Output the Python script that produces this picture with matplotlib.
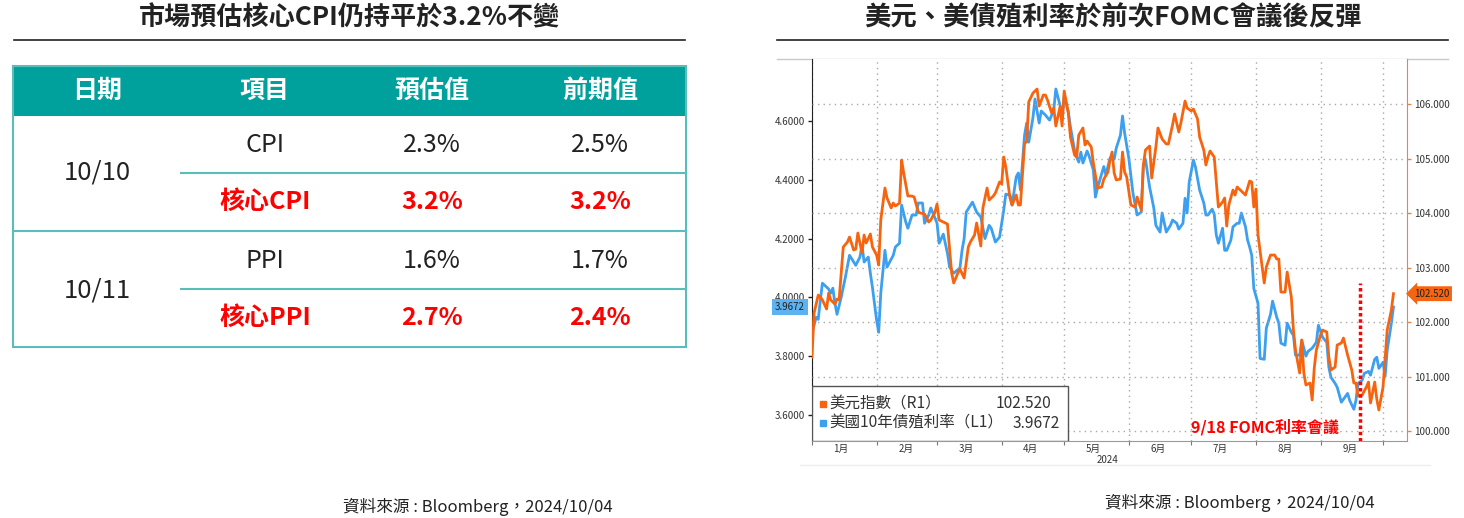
import matplotlib
matplotlib.use("Agg")
import matplotlib.pyplot as plt
import matplotlib.dates as mdates
import matplotlib.transforms as mtransforms
import pandas as pd
from matplotlib.patches import Rectangle
from matplotlib.ticker import FuncFormatter


# ---- left panel: table ----
LEFT_TITLE = "市場預估核心CPI仍持平於3.2%不變"
TABLE_HEADERS = ["日期", "項目", "預估值", "前期值"]
RELEASE_DATES = ["10/10", "10/11"]
ITEMS = ["CPI", "核心CPI", "PPI", "核心PPI"]
FORECAST = ["2.3%", "3.2%", "1.6%", "2.7%"]
PREVIOUS = ["2.5%", "3.2%", "1.7%", "2.4%"]

# ---- right panel: DXY vs US 10Y ----
RIGHT_TITLE = "美元、美債殖利率於前次FOMC會議後反彈"
SOURCE = "資料來源 : Bloomberg，2024/10/04"

YIELD_DATES = [
    "01-01", "01-03", "01-04", "01-05", "01-06", "01-09", "01-10", "01-11", "01-12", "01-13",
    "01-15", "01-17", "01-19", "01-22", "01-24", "01-25", "01-26", "01-28", "01-29", "01-30",
    "02-01", "02-02", "02-03", "02-05", "02-06", "02-09", "02-10", "02-12", "02-13", "02-15",
    "02-16", "02-18", "02-20", "02-21", "02-23", "02-24", "02-26", "02-27", "02-29", "03-01",
    "03-02", "03-04", "03-06", "03-07", "03-09", "03-12", "03-13", "03-14", "03-15", "03-18",
    "03-20", "03-22", "03-24", "03-26", "03-27", "03-29", "03-31", "04-02", "04-03", "04-05",
    "04-06", "04-08", "04-09", "04-10", "04-12", "04-13", "04-14", "04-16", "04-17", "04-19",
    "04-20", "04-22", "04-24", "04-26", "04-27", "04-29", "04-30", "05-01", "05-03", "05-04",
    "05-06", "05-07", "05-08", "05-09", "05-10", "05-12", "05-13", "05-15", "05-16", "05-17",
    "05-20", "05-21", "05-23", "05-25", "05-26", "05-28", "05-29", "05-30", "06-01", "06-03",
    "06-05", "06-07", "06-08", "06-09", "06-11", "06-13", "06-14", "06-16", "06-17", "06-19",
    "06-21", "06-22", "06-24", "06-25", "06-27", "06-28", "06-29", "06-30", "07-02", "07-03",
    "07-05", "07-07", "07-08", "07-09", "07-11", "07-12", "07-13", "07-14", "07-16", "07-17",
    "07-18", "07-20", "07-21", "07-23", "07-24", "07-25", "07-27", "07-28", "07-29", "07-30",
    "07-31", "08-02", "08-03", "08-05", "08-06", "08-08", "08-09", "08-11", "08-12", "08-13",
    "08-15", "08-16", "08-18", "08-19", "08-20", "08-22", "08-23", "08-25", "08-26", "08-28",
    "08-30", "08-31", "09-02", "09-04", "09-05", "09-06", "09-08", "09-09", "09-11", "09-12",
    "09-14", "09-15", "09-17", "09-18", "09-19", "09-21", "09-22", "09-24", "09-25", "09-27",
    "09-28", "09-29", "10-01", "10-02", "10-03", "10-05", "10-06",
]
YIELD_VALUES = [
    3.878, 3.932, 3.925, 3.990, 4.048, 4.028, 4.014, 4.031, 3.980, 3.942,
    4.000, 4.068, 4.143, 4.109, 4.137, 4.178, 4.120, 4.137, 4.082, 4.034,
    3.922, 3.881, 4.014, 4.160, 4.103, 4.143, 4.171, 4.184, 4.314, 4.256,
    4.235, 4.280, 4.280, 4.321, 4.321, 4.252, 4.280, 4.304, 4.270, 4.252,
    4.184, 4.215, 4.150, 4.103, 4.082, 4.100, 4.160, 4.200, 4.290, 4.324,
    4.290, 4.273, 4.200, 4.245, 4.235, 4.188, 4.205, 4.297, 4.351, 4.348,
    4.314, 4.410, 4.423, 4.365, 4.552, 4.593, 4.528, 4.610, 4.675, 4.593,
    4.634, 4.620, 4.603, 4.637, 4.709, 4.654, 4.614, 4.685, 4.631, 4.580,
    4.500, 4.477, 4.460, 4.494, 4.457, 4.498, 4.480, 4.433, 4.341, 4.372,
    4.445, 4.416, 4.474, 4.470, 4.508, 4.552, 4.617, 4.559, 4.474, 4.355,
    4.280, 4.290, 4.450, 4.470, 4.375, 4.304, 4.245, 4.222, 4.287, 4.222,
    4.245, 4.263, 4.252, 4.232, 4.252, 4.337, 4.287, 4.392, 4.467, 4.443,
    4.365, 4.321, 4.280, 4.280, 4.300, 4.283, 4.212, 4.184, 4.235, 4.160,
    4.160, 4.195, 4.240, 4.252, 4.252, 4.287, 4.240, 4.195, 4.171, 4.143,
    4.030, 3.980, 3.792, 3.789, 3.895, 3.942, 3.987, 3.932, 3.912, 3.844,
    3.837, 3.912, 3.881, 3.871, 3.803, 3.803, 3.854, 3.800, 3.816, 3.827,
    3.847, 3.905, 3.864, 3.847, 3.762, 3.728, 3.707, 3.694, 3.643, 3.653,
    3.673, 3.649, 3.619, 3.649, 3.707, 3.718, 3.741, 3.748, 3.735, 3.789,
    3.796, 3.758, 3.779, 3.731, 3.820, 3.912, 3.967,
]

DXY_DATES = [
    "01-01", "01-02", "01-04", "01-05", "01-06", "01-08", "01-09", "01-10", "01-12", "01-13",
    "01-14", "01-16", "01-18", "01-19", "01-21", "01-22", "01-23", "01-25", "01-26", "01-27",
    "01-29", "01-30", "02-01", "02-02", "02-03", "02-05", "02-06", "02-08", "02-09", "02-10",
    "02-12", "02-13", "02-14", "02-16", "02-18", "02-19", "02-21", "02-22", "02-24", "02-26",
    "02-27", "02-29", "03-01", "03-02", "03-04", "03-06", "03-08", "03-09", "03-11", "03-12",
    "03-14", "03-16", "03-17", "03-19", "03-20", "03-22", "03-23", "03-25", "03-26", "03-28",
    "03-29", "03-31", "04-01", "04-02", "04-03", "04-05", "04-06", "04-08", "04-09", "04-10",
    "04-12", "04-13", "04-14", "04-16", "04-18", "04-19", "04-21", "04-22", "04-23", "04-25",
    "04-26", "04-27", "04-29", "04-30", "05-01", "05-03", "05-04", "05-06", "05-07", "05-08",
    "05-10", "05-11", "05-12", "05-14", "05-15", "05-17", "05-19", "05-20", "05-22", "05-23",
    "05-24", "05-25", "05-26", "05-28", "05-29", "05-30", "05-31", "06-02", "06-04", "06-05",
    "06-07", "06-08", "06-09", "06-11", "06-12", "06-14", "06-15", "06-17", "06-19", "06-20",
    "06-22", "06-23", "06-25", "06-26", "06-28", "06-29", "07-01", "07-02", "07-04", "07-05",
    "07-07", "07-08", "07-09", "07-10", "07-12", "07-13", "07-14", "07-16", "07-17", "07-18",
    "07-19", "07-21", "07-22", "07-23", "07-25", "07-26", "07-27", "07-29", "07-30", "07-31",
    "08-01", "08-02", "08-05", "08-06", "08-08", "08-10", "08-11", "08-12", "08-13", "08-15",
    "08-16", "08-18", "08-19", "08-20", "08-22", "08-23", "08-24", "08-25", "08-27", "08-28",
    "08-29", "08-30", "09-01", "09-02", "09-04", "09-05", "09-06", "09-08", "09-09", "09-11",
    "09-12", "09-14", "09-16", "09-17", "09-18", "09-19", "09-21", "09-23", "09-24", "09-25",
    "09-27", "09-28", "09-29", "10-01", "10-02", "10-03", "10-05", "10-06",
]
DXY_VALUES = [
    101.358, 102.165, 102.495, 102.459, 102.404, 102.239, 102.532, 102.404, 102.330, 102.422,
    102.404, 103.376, 103.468, 103.560, 103.321, 103.339, 103.633, 103.266, 103.596, 103.450,
    103.615, 103.376, 103.229, 103.046, 103.872, 104.459, 104.275, 104.092, 104.183, 104.128,
    104.183, 104.972, 104.734, 104.312, 104.312, 104.294, 104.018, 104.000, 103.982, 103.835,
    103.872, 104.018, 104.165, 103.872, 103.835, 103.798, 102.899, 102.716, 102.899, 102.972,
    102.807, 103.376, 103.468, 103.596, 103.817, 103.394, 104.092, 104.459, 104.239, 104.312,
    104.367, 104.569, 104.532, 105.028, 104.844, 104.275, 104.147, 104.330, 104.147, 104.147,
    105.284, 105.303, 106.037, 106.200, 106.275, 105.963, 106.165, 106.165, 106.073, 105.835,
    105.927, 105.596, 105.945, 105.596, 106.239, 105.835, 105.394, 105.064, 105.028, 105.431,
    105.560, 105.248, 105.321, 105.211, 104.917, 104.459, 104.477, 104.620, 104.752, 104.972,
    105.119, 104.734, 104.606, 104.624, 105.119, 104.752, 104.661, 104.147, 104.110, 104.294,
    104.055, 104.881, 105.156, 105.229, 104.642, 105.211, 105.560, 105.358, 105.266, 105.266,
    105.615, 105.817, 105.486, 105.651, 106.055, 105.927, 105.872, 105.908, 105.725, 105.394,
    105.156, 104.881, 105.028, 105.138, 105.028, 104.569, 104.110, 104.202, 104.275, 103.761,
    104.147, 104.422, 104.330, 104.477, 104.404, 104.367, 104.330, 104.587, 104.569, 104.110,
    104.440, 103.600, 102.716, 103.009, 103.229, 103.229, 103.156, 103.156, 102.550, 102.550,
    102.917, 102.459, 101.853, 101.486, 101.064, 101.670, 101.064, 100.844, 100.881, 100.569,
    101.156, 101.486, 101.761, 101.853, 101.817, 101.358, 101.119, 101.174, 101.578, 101.615,
    101.706, 101.394, 101.119, 100.881, 100.881, 100.642, 100.661, 100.807, 100.899, 100.514,
    100.899, 100.587, 100.385, 100.807, 101.339, 101.853, 102.220, 102.520,
]

LAST_DXY = "102.520"
LAST_YIELD = "3.9672"
FOMC_DATE = "2024-09-20"
FOMC_LABEL = "9/18 FOMC利率會議"
LEGEND_DXY = "美元指數（R1）"
LEGEND_YIELD = "美國10年債殖利率（L1）"

TEAL = "#00A19C"
TEAL_LINE = "#5BBDBA"
RED = "#FF0000"
ORANGE = "#F7640F"
BLUE = "#3C9FEF"
DARK = "#222222"

plt.rcParams["font.family"] = ["Noto Sans CJK TC", "DejaVu Sans"]


def to_dates(days):
    return pd.to_datetime(["2024-" + d for d in days])


def draw_table(canvas):
    canvas.text(350, 18, LEFT_TITLE, ha="center", va="center",
                fontsize=18.8, fontweight="bold", color=DARK)
    canvas.plot([14, 685], [40, 40], color=DARK, lw=1.2)

    left, right, top, bottom = 13, 686, 66, 347
    canvas.add_patch(Rectangle((left, top), right - left, 50,
                               facecolor=TEAL, edgecolor="none"))
    canvas.add_patch(Rectangle((left, top), right - left, bottom - top,
                               facecolor="none", edgecolor=TEAL_LINE, lw=1.5))

    col_x = [97, 265, 432, 600]
    for x, head in zip(col_x, TABLE_HEADERS):
        canvas.text(x, 91, head, ha="center", va="center", color="white",
                    fontsize=18, fontweight="bold")

    # separators: between date groups full width, inside group from item column
    canvas.plot([left, right], [231, 231], color=TEAL_LINE, lw=1.5)
    canvas.plot([181, right], [173, 173], color=TEAL_LINE, lw=1.5)
    canvas.plot([181, right], [289, 289], color=TEAL_LINE, lw=1.5)

    for y, d in zip([173, 290], RELEASE_DATES):
        canvas.text(col_x[0], y, d, ha="center", va="center",
                    fontsize=18.5, color=DARK, fontweight="light")

    row_y = [145, 202, 261, 318]
    for y, item, fc, prev in zip(row_y, ITEMS, FORECAST, PREVIOUS):
        core = item.startswith("核心")
        color = RED if core else DARK
        weight = "bold" if core else "light"
        for x, txt in zip(col_x[1:], [item, fc, prev]):
            canvas.text(x, y, txt, ha="center", va="center", fontsize=18,
                        color=color, fontweight=weight)


def draw_chart(fig, canvas):
    canvas.text(1113, 18, RIGHT_TITLE, ha="center", va="center",
                fontsize=19, fontweight="bold", color=DARK)
    canvas.plot([777, 1448], [40, 40], color=DARK, lw=1.2)
    canvas.plot([777, 1448], [59, 59], color="#C8C8C8", lw=1)
    canvas.plot([800, 1430], [465, 465], color="#EEEEEE", lw=1)

    ax = fig.add_axes([812 / 1464, 1 - 441 / 518, 595 / 1464, 382 / 518])
    ax2 = ax.twinx()

    ax.plot(to_dates(YIELD_DATES), YIELD_VALUES, color=BLUE, lw=2)
    ax2.plot(to_dates(DXY_DATES), DXY_VALUES, color=ORANGE, lw=2)

    ax.set_xlim(pd.Timestamp("2024-01-01"), pd.Timestamp("2024-10-12 12:00"))
    ax.set_ylim(3.511, 4.811)
    ax2.set_ylim(99.817, 106.826)

    ax.set_yticks([3.6, 3.8, 4.0, 4.2, 4.4, 4.6])
    ax.yaxis.set_major_formatter(FuncFormatter(lambda v, _: f"{v:.4f}"))
    ax2.set_yticks([100, 101, 102, 103, 104, 105, 106])
    ax2.yaxis.set_major_formatter(FuncFormatter(lambda v, _: f"{v:.3f}"))

    ax.xaxis.set_major_locator(mdates.MonthLocator())
    ax.xaxis.set_major_formatter(FuncFormatter(lambda v, _: ""))
    ax.xaxis.set_minor_locator(mdates.MonthLocator(bymonthday=15))
    ax.xaxis.set_minor_formatter(
        FuncFormatter(lambda v, _: f"{mdates.num2date(v).month}月"))

    ax.grid(axis="x", which="major", ls=(0, (1, 3)), color="#A8A8A8", lw=1)
    ax2.grid(axis="y", ls=(0, (1, 3)), color="#A8A8A8", lw=1)
    ax2.set_axisbelow(True)

    for s in ["top", "right"]:
        ax.spines[s].set_visible(False)
    for s in ["top", "left", "bottom"]:
        ax2.spines[s].set_visible(False)
    ax.spines["left"].set_color(DARK)
    ax.spines["bottom"].set_color("#9A9A9A")
    ax2.spines["right"].set_color("#E2874A")

    ax.tick_params(axis="y", length=3, width=1, color=DARK, labelsize=7,
                   labelcolor="#333333", pad=2)
    ax2.tick_params(axis="y", length=3, width=1, color="#E2874A", labelsize=7,
                    labelcolor="#333333", pad=2)
    ax.tick_params(axis="x", which="major", length=3, color="#777777")
    ax.tick_params(axis="x", which="minor", length=0, labelsize=7,
                   labelcolor="#333333", pad=2)
    ax.text(0.497, -0.05, "2024", transform=ax.transAxes, ha="center",
            va="center", fontsize=7, color="#333333")

    # last-value badges on each axis
    tr_l = mtransforms.blended_transform_factory(ax.transAxes, ax.transData)
    ax.text(-0.012, YIELD_VALUES[-1], LAST_YIELD, transform=tr_l, ha="right",
            va="center", fontsize=7, color=DARK, clip_on=False,
            bbox=dict(boxstyle="square,pad=0.3", fc="#5DB2F2", ec="none"))
    tr_r = mtransforms.blended_transform_factory(ax2.transAxes, ax2.transData)
    ax2.text(1.012, DXY_VALUES[-1], LAST_DXY, transform=tr_r, ha="left",
             va="center", fontsize=7, color=DARK, clip_on=False,
             bbox=dict(boxstyle="larrow,pad=0.25", fc=ORANGE, ec="none"))

    # FOMC marker
    ax2.vlines(pd.Timestamp(FOMC_DATE), 99.817, 102.72, colors=RED,
               linestyles=(0, (1, 0.8)), lw=2.5, zorder=5)
    ax2.text(0.761, 0.037, FOMC_LABEL, transform=ax2.transAxes, ha="center",
             va="center", color=RED, fontsize=11.5, fontweight="bold", zorder=6)

    # legend box
    ax2.add_patch(Rectangle((0, 0), 0.430, 0.144, transform=ax2.transAxes,
                            facecolor="white", edgecolor="#555555", lw=1,
                            zorder=10))
    rows = [(0.097, ORANGE, LEGEND_DXY, LAST_DXY, 0.403),
            (0.047, BLUE, LEGEND_YIELD, LAST_YIELD, 0.417)]
    for y, c, name, val, vx in rows:
        ax2.plot([0.0185], [y], marker="s", ms=5, color=c,
                 transform=ax2.transAxes, zorder=11, clip_on=False)
        ax2.text(0.0286, y, name, transform=ax2.transAxes, ha="left",
                 va="center", fontsize=11.2, color="#333333", zorder=11)
        ax2.text(vx, y, val, transform=ax2.transAxes, ha="right",
                 va="center", fontsize=11.2, color="#333333", zorder=11)


def main():
    fig = plt.figure(figsize=(14.64, 5.18), dpi=100)
    canvas = fig.add_axes([0, 0, 1, 1])
    canvas.set_xlim(0, 1464)
    canvas.set_ylim(518, 0)
    canvas.axis("off")

    draw_table(canvas)
    draw_chart(fig, canvas)

    canvas.text(478, 507, SOURCE, ha="center", va="center", fontsize=12,
                color=DARK)
    canvas.text(1240, 503, SOURCE, ha="center", va="center", fontsize=12,
                color=DARK)

    fig.savefig("out.png", dpi=100)
    plt.close(fig)


if __name__ == "__main__":
    main()
